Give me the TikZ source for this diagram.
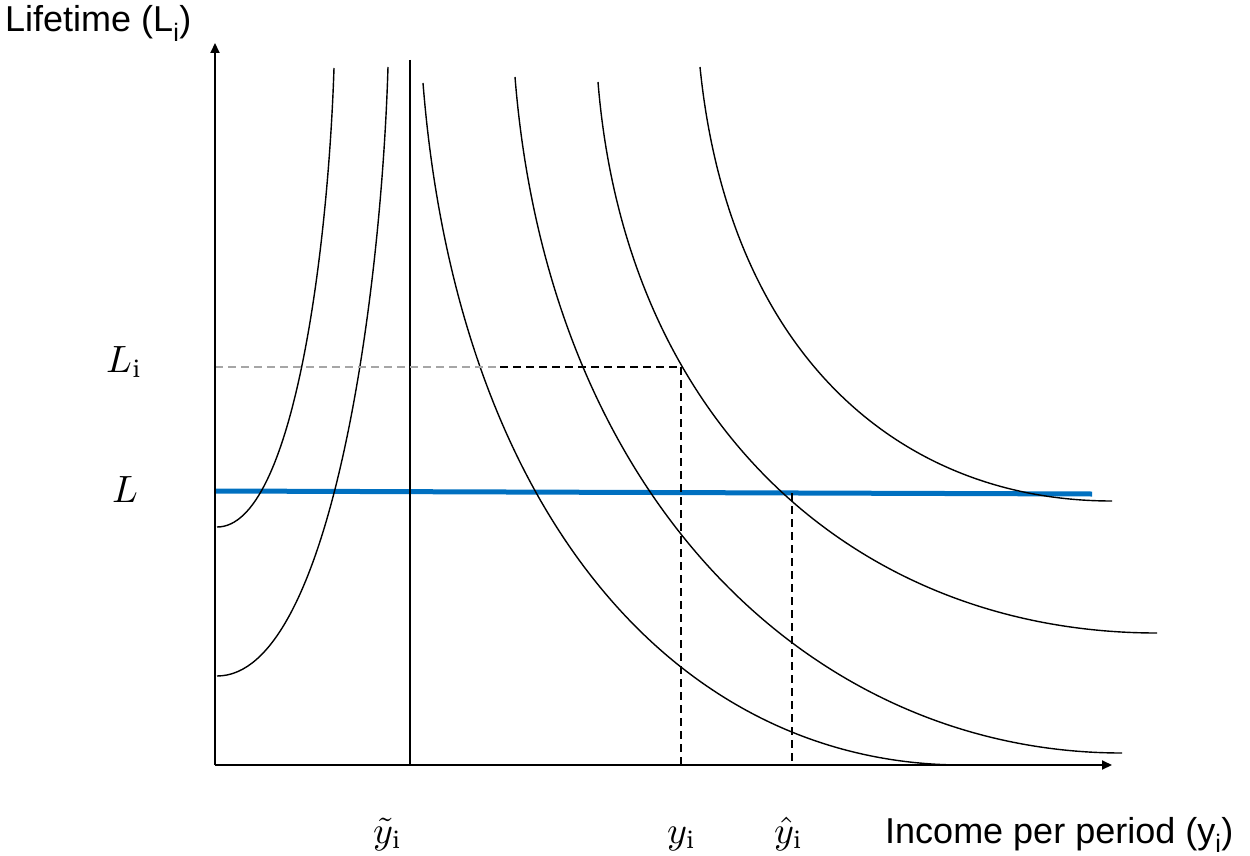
\documentclass[tikz,border=0pt]{standalone}
\usepackage{fontspec}
\setsansfont{Liberation Sans}
\usetikzlibrary{arrows.meta}
\definecolor{lineblue}{RGB}{0,112,192}
\newcommand{\biglab}[1]{\scalebox{3.8}{$#1$}}
\begin{document}
\begin{tikzpicture}[x=1pt,y=-1pt,
  curve/.style={black,line width=1.4pt},
  axis/.style={black,line width=2pt,-{Triangle[length=10pt,width=9pt]}},
  guide/.style={black,line width=1.8pt,dash pattern=on 8pt off 5pt},
  guidegray/.style={gray!70,line width=1.8pt,dash pattern=on 8pt off 5pt},
  axtitle/.style={font=\sffamily\fontsize{36}{40}\selectfont,inner sep=0pt,anchor=base west},
  mathlab/.style={font=\fontsize{10}{12}\selectfont,inner sep=0pt,anchor=base west}]
\useasboundingbox (0,0) rectangle (1250,856);
% coordinates
\coordinate (O) at (215,765);
\coordinate (ytop) at (215,43);
\coordinate (xend) at (1112,765);
\coordinate (vtop) at (410,60);
\coordinate (vbot) at (410,765);
\coordinate (Lstart) at (215,491);
\coordinate (Lend) at (1092,494);
\coordinate (Listart) at (215,367);
\coordinate (Limid) at (500,367);
\coordinate (P) at (681,367);
\coordinate (Pbot) at (681,765);
\coordinate (Q) at (792,493);
\coordinate (Qbot) at (792,765);
% curve end points
\coordinate (r1s) at (217,676); \coordinate (r1e) at (388,67);
\coordinate (r2s) at (217,527); \coordinate (r2e) at (334,68);
\coordinate (fas) at (423,83);  \coordinate (fae) at (963,765);
\coordinate (fbs) at (515,77);  \coordinate (fbe) at (1122,753);
\coordinate (fcs) at (598,82);  \coordinate (fce) at (1157,633);
\coordinate (fds) at (700,67);  \coordinate (fde) at (1112,501);
% blue line
\draw[lineblue,line width=5pt] (Lstart) -- (Lend);
% rising curves
\draw[curve] (r1s) .. controls (330,676) and (381,300) .. (r1e);
\draw[curve] (r2s) .. controls (293,527) and (328,252) .. (r2e);
% falling curves
\draw[curve] (fas) .. controls (457,513) and (677,765) .. (fae);
\draw[curve] (fbs) .. controls (549,503) and (815,753) .. (fbe);
\draw[curve] (fcs) .. controls (626,429) and (861,633) .. (fce);
\draw[curve] (fds) .. controls (729,355) and (900,501) .. (fde);
% vertical line
\draw[black,line width=2pt] (vtop) -- (vbot);
% dashed guides
\draw[guidegray] (Listart) -- (Limid);
\draw[guide] (Limid) -- (P);
\draw[guide] (P) -- (Pbot);
\draw[guide] (Q) -- (Qbot);
% axes
\draw[axis] (O) -- (ytop);
\draw[axis] (O) -- (xend);
% labels
\node[axtitle] (ylab) at (5,32) {Lifetime (L\textsubscript{i})};
\node[axtitle] (xlab) at (885,843) {Income per period (y\textsubscript{i})};
\node[mathlab] (Li) at (106,372) {\biglab{L_{\mathrm{i}}}};
\node[mathlab] (Lbar) at (112,502) {\biglab{L}};
\node[mathlab] (yt) at (373,843) {\biglab{\tilde{y}_{\mathrm{i}}}};
\node[mathlab] (yi) at (667,843) {\biglab{y_{\mathrm{i}}}};
\node[mathlab] (yh) at (774,843) {\biglab{\hat{y}_{\mathrm{i}}}};
\end{tikzpicture}
\end{document}
